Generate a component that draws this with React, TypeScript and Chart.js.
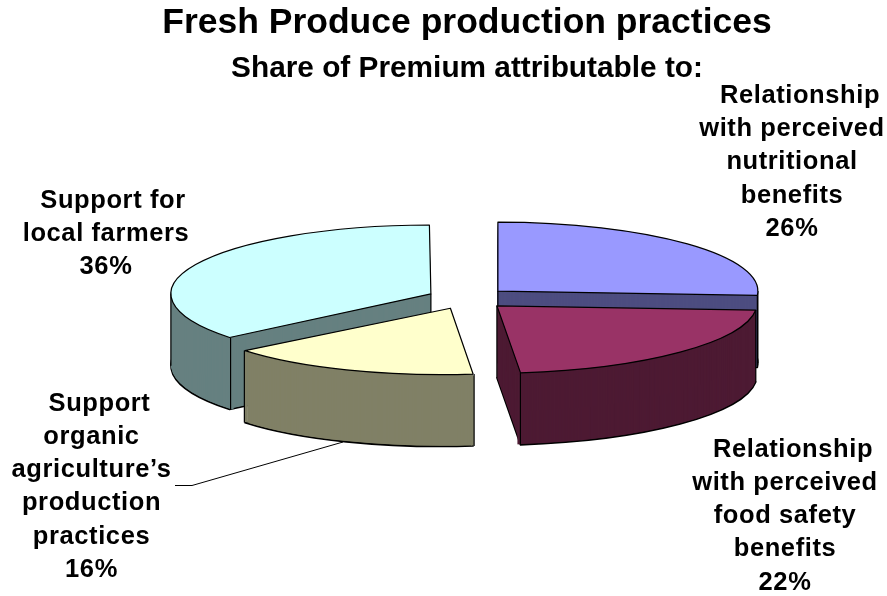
import React, { useEffect, useRef } from "react";
import { Chart, registerables } from "chart.js";

Chart.register(...registerables);

const FONT = "'Liberation Sans', Arial, sans-serif";

const categories = [
  "Relationship with perceived nutritional benefits",
  "Relationship with perceived food safety benefits",
  "Support organic agriculture's production practices",
  "Support for local farmers",
];
const shares = [26, 22, 16, 36];
const topColors = ["#9999FF", "#993366", "#FFFFCC", "#CCFFFF"];
const sideColors = ["#4D4D80", "#4D1A33", "#808066", "#668080"];
const labelLines = [
  ["Relationship", "with perceived", "nutritional", "benefits"],
  ["Relationship", "with perceived", "food safety", "benefits"],
  ["Support", "organic", "agriculture\u2019s", "production", "practices"],
  ["Support for", "local farmers"],
];
const labelAnchors = [
  { x: 792, y: 103 },
  { x: 785, y: 456.7 },
  { x: 91.5, y: 410.7 },
  { x: 106, y: 208 },
];
const lineNudges = [
  [8, 0, 0, 0, 0],
  [8, 0, 0, 0, 0],
  [8, 0, 0, 0, 0, 0],
  [7, 0, 0],
];
const drawOrder = [3, 0, 2, 1];

const TILTS = [0.265, 0.26, 0.255, 0.265];
const SKEWS = [0, -0.135, -0.135, 0];
const NUDGE_X = [1, 0, -1.5, 1];
const DEPTH = 72;
const CENTER_Y = 298.5;
const LINE_H = 33.2;
const LABEL_SIZE = 25.5;

const pie3d = {
  id: "pie3d",
  beforeDatasetsDraw(chart: any) {
    const ctx = chart.ctx as CanvasRenderingContext2D;
    const arcs = chart.getDatasetMeta(0).data as any[];
    const origStroke = ctx.stroke;
    // Strokes keep an even width although the disc is squashed.
    (ctx as any).stroke = function () {
      ctx.save();
      ctx.setTransform(1, 0, 0, 1, 0, 0);
      origStroke.call(ctx);
      ctx.restore();
    };
    const paint = (arc: any, fill: string, stroke: number) => {
      const saved = arc.options;
      const savedR = arc.outerRadius;
      const off = (saved.offset || 0) / 4;
      const fix = 1 - Math.sin(Math.min(Math.PI, arc.circumference || 0));
      arc.outerRadius = savedR - off * fix;
      arc.options = { ...saved, backgroundColor: fill, borderColor: "#000", borderWidth: stroke, borderAlign: "center", borderJoinStyle: "round" };
      arc.draw(ctx);
      arc.options = saved;
      arc.outerRadius = savedR;
    };
    const norm = (a: number) => {
      const t = Math.PI * 2;
      return ((a % t) + t) % t;
    };
    const within = (a: number, s: number, e: number) => norm(a - s) <= e - s;
    for (const i of drawOrder) {
      const arc = arcs[i];
      const tilt = TILTS[i];
      const skew = SKEWS[i];
      const off = (arc.options.offset || 0) / 4;
      const mid = (arc.startAngle + arc.endAngle) / 2;
      const ax = arc.x + Math.cos(mid) * off;
      const ay = arc.y + Math.sin(mid) * off;
      const R = arc.outerRadius;
      const place = (dy: number) => {
        ctx.setTransform(1, 0, skew * tilt, tilt, NUDGE_X[i] - skew * tilt * ay, CENTER_Y + dy - arc.y * tilt);
      };
      const toX = (x: number, y: number) => x + NUDGE_X[i] + skew * tilt * (y - ay);
      const toY = (y: number) => CENTER_Y + (y - arc.y) * tilt;
      // bottom rim, then the extruded wall
      ctx.save();
      place(DEPTH);
      paint(arc, sideColors[i], 1.6);
      ctx.restore();
      for (let d = DEPTH - 1; d > 0; d--) {
        ctx.save();
        place(d);
        paint(arc, sideColors[i], 0);
        ctx.restore();
      }
      // vertical edges of the wall; back corners sit behind the top face
      const corners: [number, number][] = [];
      [arc.startAngle, arc.endAngle, Math.PI, 0].forEach((a) => {
        if (within(a, arc.startAngle, arc.endAngle) && Math.sin(a) > -0.5) {
          corners.push([ax + Math.cos(a) * R, ay + Math.sin(a) * R]);
        }
      });
      const verts = corners.slice();
      if (!within(Math.PI / 2, arc.startAngle, arc.endAngle)) verts.push([ax, ay]);
      ctx.save();
      ctx.setTransform(1, 0, 0, 1, 0, 0);
      ctx.fillStyle = sideColors[i];
      for (const [vx, vy] of corners) {
        const sx = toX(vx, vy);
        const sy = toY(vy);
        const inward = toX(ax, ay) > sx ? 1 : -1;
        ctx.fillRect(inward > 0 ? sx : sx - 3, sy + 1.5, 3, DEPTH - 2);
      }
      ctx.strokeStyle = "#000";
      ctx.lineWidth = 1.2;
      for (const [vx, vy] of verts) {
        const sx = toX(vx, vy);
        const sy = toY(vy);
        ctx.beginPath();
        ctx.moveTo(sx, sy);
        ctx.lineTo(sx, sy + DEPTH);
        origStroke.call(ctx);
      }
      ctx.restore();
      // top face
      ctx.save();
      place(0);
      paint(arc, topColors[i], 1.2);
      ctx.restore();
    }
    delete (ctx as any).stroke;
    return false;
  },
  afterDraw(chart: any) {
    const ctx = chart.ctx as CanvasRenderingContext2D;
    ctx.save();
    ctx.strokeStyle = "#000";
    ctx.lineWidth = 1;
    ctx.beginPath();
    ctx.moveTo(175, 485.5);
    ctx.lineTo(192, 485.5);
    ctx.lineTo(343, 442);
    ctx.stroke();
    ctx.fillStyle = "#000";
    ctx.font = `bold ${LABEL_SIZE}px ${FONT}`;
    (ctx as any).letterSpacing = "0.6px";
    ctx.textAlign = "center";
    ctx.textBaseline = "alphabetic";
    labelLines.forEach((lines, i) => {
      const all = [...lines, `${shares[i]}%`];
      all.forEach((t, j) => ctx.fillText(t, labelAnchors[i].x + lineNudges[i][j], labelAnchors[i].y + j * LINE_H));
    });
    ctx.restore();
  },
};

export default function App() {
  const ref = useRef<HTMLCanvasElement>(null);
  useEffect(() => {
    const chart = new Chart(ref.current!, {
      type: "pie",
      plugins: [pie3d],
      data: {
        labels: categories,
        datasets: [{ data: shares, backgroundColor: topColors, offset: 164, borderWidth: 1, borderColor: "#000" }],
      },
      options: {
        animation: false,
        responsive: false,
        radius: 260,
        layout: { padding: { left: 47, top: 2 } },
        plugins: {
          legend: { display: false },
          tooltip: { enabled: false },
          title: {
            display: true,
            text: "Fresh Produce production practices",
            color: "#000",
            font: { family: FONT, size: 35.5, weight: "bold" },
            padding: { top: 0, bottom: 6 },
          },
          subtitle: {
            display: true,
            text: "Share of Premium attributable to:",
            color: "#000",
            font: { family: FONT, size: 29.8, weight: "bold" },
            padding: { top: 0, bottom: 0 },
          },
        },
      } as any,
    });
    return () => chart.destroy();
  }, []);
  return (
    <canvas
      ref={ref}
      width={887}
      height={596}
      style={{ position: "absolute", left: 0, top: 0, width: 887, height: 596, display: "block" }}
    />
  );
}
